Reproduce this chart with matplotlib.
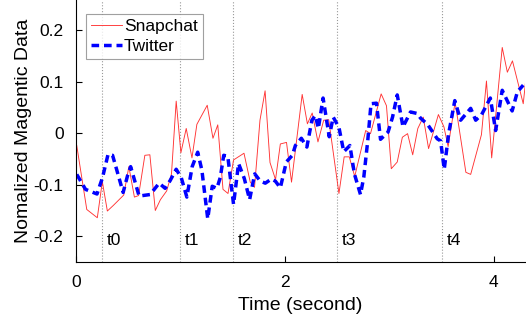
import matplotlib
matplotlib.use("Agg")
import matplotlib.pyplot as plt

plt.rcParams['font.family'] = ['Liberation Sans', 'DejaVu Sans']

# Snapchat trace (time in s, normalized magnetic value)
snap_t = [0.007, 0.103, 0.204, 0.252, 0.300, 0.358, 0.457, 0.506, 0.559, 0.599,
          0.659, 0.707, 0.759, 0.808, 0.868, 0.914, 0.959, 1.004, 1.055, 1.110,
          1.157, 1.256, 1.311, 1.357, 1.407, 1.455, 1.508, 1.608, 1.668, 1.709,
          1.761, 1.810, 1.857, 1.910, 1.956, 2.015, 2.063, 2.165, 2.215, 2.261,
          2.316, 2.371, 2.419, 2.517, 2.567, 2.616, 2.668, 2.773, 2.819, 2.921,
          2.972, 3.018, 3.075, 3.124, 3.174, 3.223, 3.272, 3.324, 3.375, 3.469,
          3.522, 3.562, 3.629, 3.732, 3.778, 3.881, 3.929, 3.979, 4.080, 4.129,
          4.178, 4.281, 4.314]
snap_v = [-0.024, -0.148, -0.164, -0.094, -0.151, -0.140, -0.120, -0.065, -0.124, -0.121,
          -0.043, -0.042, -0.150, -0.129, -0.112, -0.079, 0.062, -0.038, 0.009, -0.048,
          0.017, 0.054, -0.010, 0.016, -0.109, -0.117, -0.052, -0.039, -0.095, -0.105,
          0.025, 0.082, -0.057, -0.090, -0.021, -0.018, -0.095, 0.075, 0.018, 0.039,
          -0.017, 0.025, 0.026, -0.117, -0.046, -0.046, -0.084, 0.005, -0.001, 0.076,
          0.053, -0.069, -0.056, -0.008, -0.001, -0.042, 0.009, 0.031, -0.030, 0.036,
          0.012, -0.026, 0.060, -0.076, -0.080, -0.003, 0.101, -0.048, 0.166, 0.118,
          0.140, 0.057, 0.119]

# Twitter trace
tw_t = [0.007, 0.091, 0.201, 0.254, 0.307, 0.350, 0.384, 0.451, 0.494, 0.523,
        0.604, 0.710, 0.796, 0.853, 0.901, 0.959, 1.007, 1.061, 1.112, 1.165,
        1.205, 1.261, 1.304, 1.349, 1.381, 1.414, 1.453, 1.508, 1.556, 1.611,
        1.662, 1.685, 1.711, 1.764, 1.812, 1.870, 1.908, 1.956, 2.013, 2.071,
        2.100, 2.157, 2.210, 2.258, 2.291, 2.320, 2.365, 2.424, 2.462, 2.517,
        2.563, 2.622, 2.665, 2.723, 2.755, 2.793, 2.824, 2.876, 2.915, 2.987,
        3.030, 3.075, 3.130, 3.202, 3.267, 3.298, 3.365, 3.458, 3.490, 3.525,
        3.567, 3.626, 3.682, 3.778, 3.826, 3.883, 3.966, 4.017, 4.080, 4.175,
        4.225, 4.281]
tw_v = [-0.080, -0.109, -0.118, -0.086, -0.041, -0.043, -0.067, -0.115, -0.082, -0.065,
        -0.122, -0.119, -0.097, -0.107, -0.092, -0.070, -0.086, -0.124, -0.065, -0.037,
        -0.072, -0.166, -0.103, -0.107, -0.086, -0.043, -0.045, -0.138, -0.059, -0.088,
        -0.129, -0.105, -0.079, -0.093, -0.097, -0.089, -0.093, -0.106, -0.056, -0.043,
        -0.024, -0.010, -0.027, 0.025, 0.034, 0.009, 0.068, -0.007, 0.031, 0.011,
        -0.036, -0.024, -0.079, -0.119, -0.085, -0.014, 0.057, 0.058, -0.012, 0.002,
        0.031, 0.074, 0.012, 0.041, 0.038, 0.029, 0.017, -0.011, -0.015, -0.070,
        -0.001, 0.063, 0.025, 0.048, 0.025, 0.036, 0.068, 0.005, 0.083, 0.043,
        0.080, 0.093]

# event markers
marks = [0.25, 1.0, 1.5, 2.5, 3.5]
mark_labels = ['t0', 't1', 't2', 't3', 't4']

fig = plt.figure(figsize=(5.26, 3.22), dpi=100)
ax = fig.add_axes([0.1445, 0.186, 0.854, 0.814])

for m, lab in zip(marks, mark_labels):
    ax.axvline(m, color='#999999', linestyle=':', linewidth=0.8)
    ax.text(m + 0.045, -0.208, lab, fontsize=12.5, va='center', ha='left')

ax.plot(snap_t, snap_v, color='#ff3333', linewidth=0.65, label='Snapchat')
ax.plot(tw_t, tw_v, color='#0000ff', linewidth=2.5, linestyle=(0, (2.2, 1.4)), label='Twitter')

ax.set_xlim(0, 4.3)
ax.set_ylim(-0.25, 0.258)
ax.set_xticks([0, 2, 4])
ax.set_yticks([-0.2, -0.1, 0, 0.1, 0.2])
ax.set_xticklabels(['0', '2', '4'])
ax.set_yticklabels(['-0.2', '-0.1', '0', '0.1', '0.2'])
ax.tick_params(direction='in', labelsize=12.5, length=4, pad=9)
ax.spines['top'].set_visible(False)
ax.spines['right'].set_visible(False)
ax.set_xlabel('Time (second)', fontsize=14, labelpad=5)
ax.set_ylabel('Nomalized Magentic Data', fontsize=14, labelpad=1)

leg = ax.legend(loc='upper left', fontsize=12.5, frameon=True, fancybox=False,
                handlelength=1.8, handletextpad=0.08, borderpad=0.3, labelspacing=0.25,
                borderaxespad=0, bbox_to_anchor=(0.022, 0.947))
leg.get_frame().set_edgecolor('#888888')
leg.get_frame().set_linewidth(0.8)

fig.savefig('out.png', dpi=100)
